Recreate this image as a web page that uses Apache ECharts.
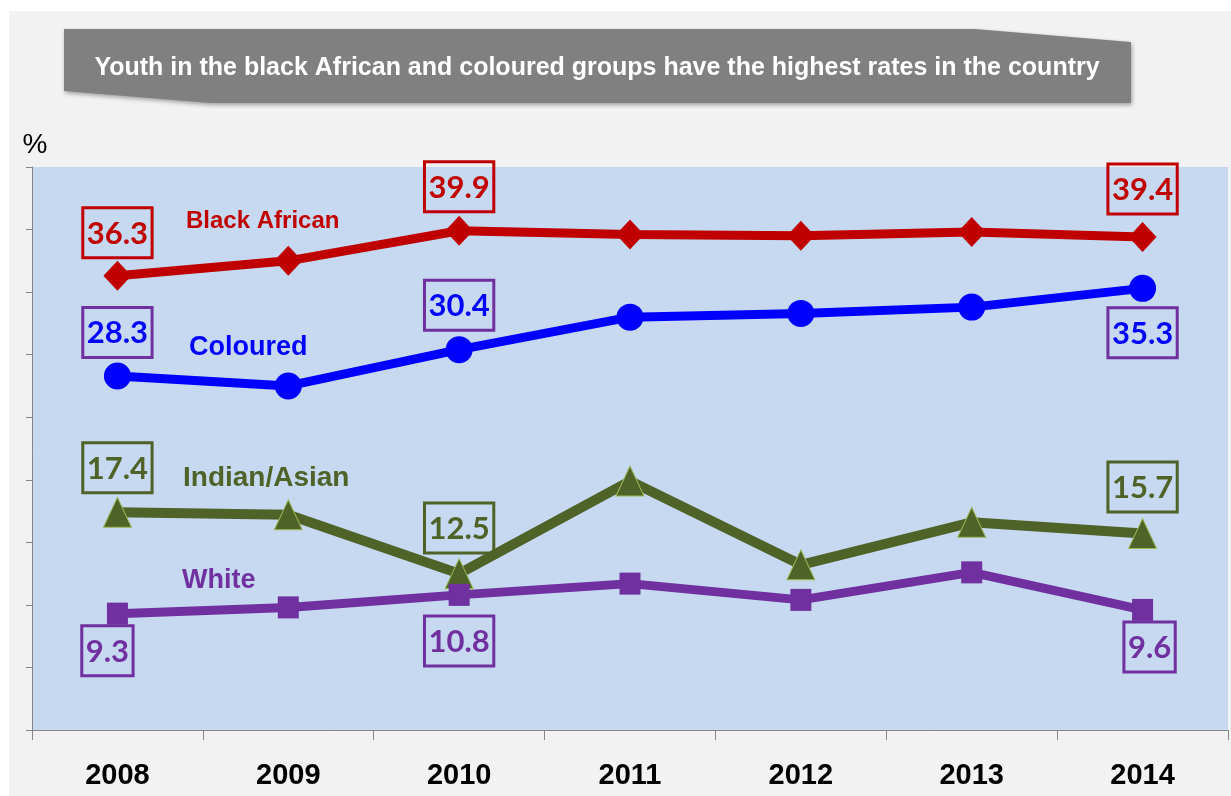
<!DOCTYPE html>
<html>
<head>
<meta charset="utf-8">
<script src="https://cdn.jsdelivr.net/npm/echarts@6/dist/echarts.min.js"></script>
<style>
  body { margin: 0; background: #fff; }
  #chart { position: absolute; left: 9px; top: 11px; width: 1222px; height: 785px; background: #f2f2f2; }
</style>
</head>
<body>
<div id="chart"></div>
<script>
// data
var years = ["2008", "2009", "2010", "2011", "2012", "2013", "2014"];
var blackAfrican = [36.3, 37.5, 39.9, 39.6, 39.5, 39.8, 39.4];
var coloured = [28.3, 27.5, 30.4, 33.0, 33.3, 33.8, 35.3];
var indianAsian = [17.4, 17.2, 12.5, 19.9, 13.2, 16.6, 15.7];
var white = [9.3, 9.8, 10.8, 11.7, 10.4, 12.6, 9.6];
// points that carry a boxed value label
var labelledIdx = [0, 2, 6];

var titleText = "Youth in the black African and coloured groups have the highest rates in the country";

// build data items, turning on the boxed label only for the labelled years
function withLabels(values, pos) {
  return values.map(function (v, i) {
    if (labelledIdx.indexOf(i) < 0) return v;
    var p = pos[labelledIdx.indexOf(i)];
    var lab = { show: true, position: p.position, distance: p.distance };
    if (p.offset) lab.offset = p.offset;
    return { value: v, label: lab };
  });
}

function boxLabel(textColor, borderColor) {
  return {
    show: false,
    color: textColor,
    fontFamily: "Lato",
    fontWeight: "bold",
    fontSize: 31,
    lineHeight: 40,
    borderColor: borderColor,
    borderWidth: 3,
    padding: [6, 4, 4, 4],
    formatter: function (p) { return p.value.toFixed(1); }
  };
}

var chart = echarts.init(document.getElementById("chart"));

var option = {
  animation: false,
  grid: { left: 23, right: 3, top: 156, bottom: 66, containLabel: false, show: true, backgroundColor: "#c6d9f1", borderWidth: 0 },
  xAxis: {
    type: "category",
    data: years,
    boundaryGap: true,
    axisLine: { lineStyle: { color: "#868686", width: 1 } },
    axisTick: { show: true, length: 10, lineStyle: { color: "#868686" } },
    axisLabel: { color: "#000", fontFamily: "Liberation Sans", fontWeight: "bold", fontSize: 29, margin: 31 }
  },
  yAxis: {
    type: "value",
    min: 0,
    max: 45,
    interval: 5,
    name: "%",
    nameLocation: "end",
    nameGap: 8,
    nameTextStyle: { color: "#000", fontFamily: "Liberation Sans", fontSize: 28, align: "center", padding: [0, 0, 0, 6] },
    axisLine: { show: true, lineStyle: { color: "#868686", width: 1 } },
    axisTick: { show: true, length: 6, lineStyle: { color: "#868686" } },
    axisLabel: { show: false },
    splitLine: { show: false }
  },
  graphic: [
    {
      type: "polygon",
      shape: { points: [[55, 18], [966, 18], [1122, 31], [1122, 92], [201, 92], [55, 80]] },
      style: { fill: "#808080", shadowBlur: 4, shadowOffsetX: 1, shadowOffsetY: 2, shadowColor: "rgba(0,0,0,0.35)" }
    },
    {
      type: "text", x: 588, y: 57,
      style: { text: titleText, fill: "#fff", font: "bold 25px 'Liberation Sans'", align: "center", verticalAlign: "middle" }
    },
    { type: "text", x: 177, y: 210, z: 10, style: { text: "Black African", fill: "#c00000", font: "bold 24px 'Liberation Sans'", verticalAlign: "middle" } },
    { type: "text", x: 180, y: 337, z: 10, style: { text: "Coloured", fill: "#0000ff", font: "bold 27px 'Liberation Sans'", verticalAlign: "middle" } },
    { type: "text", x: 174, y: 467, z: 10, style: { text: "Indian/Asian", fill: "#4f6228", font: "bold 28px 'Liberation Sans'", verticalAlign: "middle" } },
    { type: "text", x: 173, y: 570, z: 10, style: { text: "White", fill: "#7030a0", font: "bold 27px 'Liberation Sans'", verticalAlign: "middle" } }
  ],
  series: [
    {
      name: "Black African",
      type: "line",
      symbol: "diamond",
      symbolSize: [28, 30],
      lineStyle: { color: "#c00000", width: 9 },
      itemStyle: { color: "#c00000" },
      label: boxLabel("#c00000", "#c00000"),
      data: withLabels(blackAfrican, [
        { position: "top", distance: 3 },
        { position: "top", distance: 4 },
        { position: "top", distance: 8 }
      ])
    },
    {
      name: "Coloured",
      type: "line",
      symbol: "circle",
      symbolSize: 27,
      lineStyle: { color: "#0000ff", width: 9 },
      itemStyle: { color: "#0000ff" },
      label: boxLabel("#0000ff", "#7030a0"),
      data: withLabels(coloured, [
        { position: "top", distance: 5 },
        { position: "top", distance: 6 },
        { position: "bottom", distance: 6 }
      ])
    },
    {
      name: "Indian/Asian",
      type: "line",
      symbol: "triangle",
      symbolSize: [28, 30],
      lineStyle: { color: "#4f6228", width: 10 },
      itemStyle: { color: "#4f6228", borderColor: "#9bbb59", borderWidth: 1 },
      label: boxLabel("#4f6228", "#4f6228"),
      data: withLabels(indianAsian, [
        { position: "top", distance: 4 },
        { position: "top", distance: 5 },
        { position: "top", distance: 6 }
      ])
    },
    {
      name: "White",
      type: "line",
      symbol: "rect",
      symbolSize: [21, 22],
      lineStyle: { color: "#7030a0", width: 9 },
      itemStyle: { color: "#7030a0" },
      label: boxLabel("#7030a0", "#7030a0"),
      data: withLabels(white, [
        { position: "bottom", distance: 1, offset: [-10, 0] },
        { position: "bottom", distance: 10 },
        { position: "bottom", distance: 1, offset: [7, 0] }
      ])
    }
  ]
};

chart.setOption(option);
</script>
</body>
</html>
